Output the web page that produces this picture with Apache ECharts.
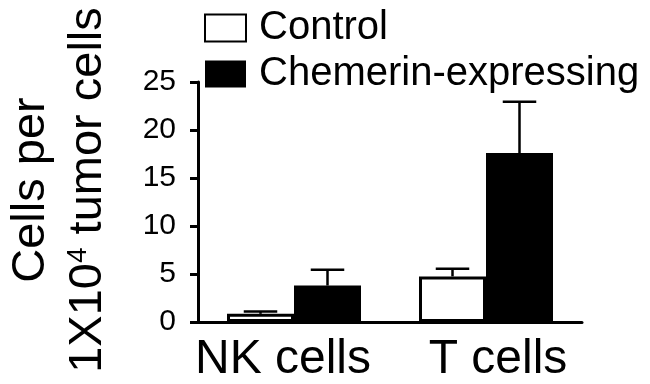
<!DOCTYPE html>
<html>
<head>
<meta charset="utf-8">
<script src="https://cdn.jsdelivr.net/npm/echarts@6/dist/echarts.min.js"></script>
<style>html,body{margin:0;padding:0;background:#fff}#c{width:650px;height:384px}</style>
</head>
<body>
<div id="c"></div>
<script>
var categories = ['NK cells', 'T cells'];
var seriesNames = ['Control', 'Chemerin-expressing'];
var controlMean = [0.85, 4.75];
var controlErr = [0.25, 0.8];
var chemerinMean = [3.8, 17.6];
var chemerinErr = [1.65, 5.35];
var yTicks = [0, 5, 10, 15, 20, 25];

var FONT = "'Liberation Sans', Arial, Helvetica, sans-serif";
var BAR_W = 67;

function errSeries(name, means, errs, side) {
  return {
    type: 'custom',
    name: name + ' err',
    z: 1,
    silent: true,
    data: means.map(function (m, i) { return [i, m, m + errs[i]]; }),
    renderItem: function (params, api) {
      var x = api.value(0);
      var p0 = api.coord([x, api.value(1)]);
      var p1 = api.coord([x, api.value(2)]);
      var cx = p0[0] + side * BAR_W / 2;
      var half = BAR_W / 4;
      var st = { stroke: '#000', lineWidth: 2.5 };
      return {
        type: 'group',
        children: [
          { type: 'line', shape: { x1: cx, y1: p0[1], x2: cx, y2: p1[1] }, style: st },
          { type: 'line', shape: { x1: cx - half, y1: p1[1], x2: cx + half, y2: p1[1] }, style: st }
        ]
      };
    }
  };
}

var chart = echarts.init(document.getElementById('c'));
chart.setOption({
  animation: false,
  backgroundColor: '#fff',
  textStyle: { fontFamily: FONT, color: '#000' },
  grid: { left: 186, right: 68, top: 82, bottom: 59, containLabel: false },
  legend: {
    orient: 'vertical',
    left: 199,
    top: 3,
    icon: 'rect',
    itemWidth: 41,
    itemHeight: 27,
    itemGap: 6,
    data: seriesNames,
    textStyle: { fontSize: 40, fontFamily: FONT, color: '#000', padding: [0, 0, 0, 8] }
  },
  xAxis: {
    type: 'category',
    data: categories,
    axisLine: { lineStyle: { color: '#000', width: 3 } },
    axisTick: { show: false },
    axisLabel: {
      fontSize: 48, fontFamily: FONT, color: '#000', margin: 14, interval: 0,
      formatter: function (v, i) { return i === 0 ? '{l|' + v + '}' : '{r|' + v + '}'; },
      rich: {
        l: { fontSize: 48, fontFamily: FONT, color: '#000', padding: [0, 22, 0, 0] },
        r: { fontSize: 48, fontFamily: FONT, color: '#000', padding: [0, 0, 0, 24] }
      }
    },
    splitLine: { show: false }
  },
  yAxis: {
    type: 'value',
    min: yTicks[0],
    max: yTicks[yTicks.length - 1],
    interval: 5,
    axisLine: { show: true, lineStyle: { color: '#000', width: 3 } },
    axisTick: { show: true, length: 8, lineStyle: { color: '#000', width: 3 } },
    axisLabel: { fontSize: 30, fontFamily: FONT, color: '#000', margin: 22 },
    splitLine: { show: false },
    name: '{a|Cells per}\n{a|1X10}{s|4}{a| tumor cells}',
    nameLocation: 'middle',
    nameRotate: 90,
    nameGap: 81,
    nameTextStyle: {
      fontFamily: FONT,
      color: '#000',
      padding: [0, 0, 0, 24],
      rich: {
        a: { fontSize: 47, lineHeight: 57, fontFamily: FONT, color: '#000' },
        s: { fontSize: 28, lineHeight: 57, verticalAlign: 'top', fontFamily: FONT, color: '#000', padding: [4, 0, 0, 0] }
      }
    }
  },
  series: [
    {
      name: seriesNames[0],
      type: 'bar',
      z: 2,
      barWidth: BAR_W,
      barGap: '0%',
      data: controlMean,
      itemStyle: { color: '#fff', borderColor: '#000', borderWidth: 3 }
    },
    {
      name: seriesNames[1],
      type: 'bar',
      z: 2,
      barWidth: BAR_W,
      barGap: '0%',
      data: chemerinMean,
      itemStyle: { color: '#000', borderColor: '#000', borderWidth: 0 }
    },
    errSeries(seriesNames[0], controlMean, controlErr, -1),
    errSeries(seriesNames[1], chemerinMean, chemerinErr, 1)
  ]
});
</script>
</body>
</html>
